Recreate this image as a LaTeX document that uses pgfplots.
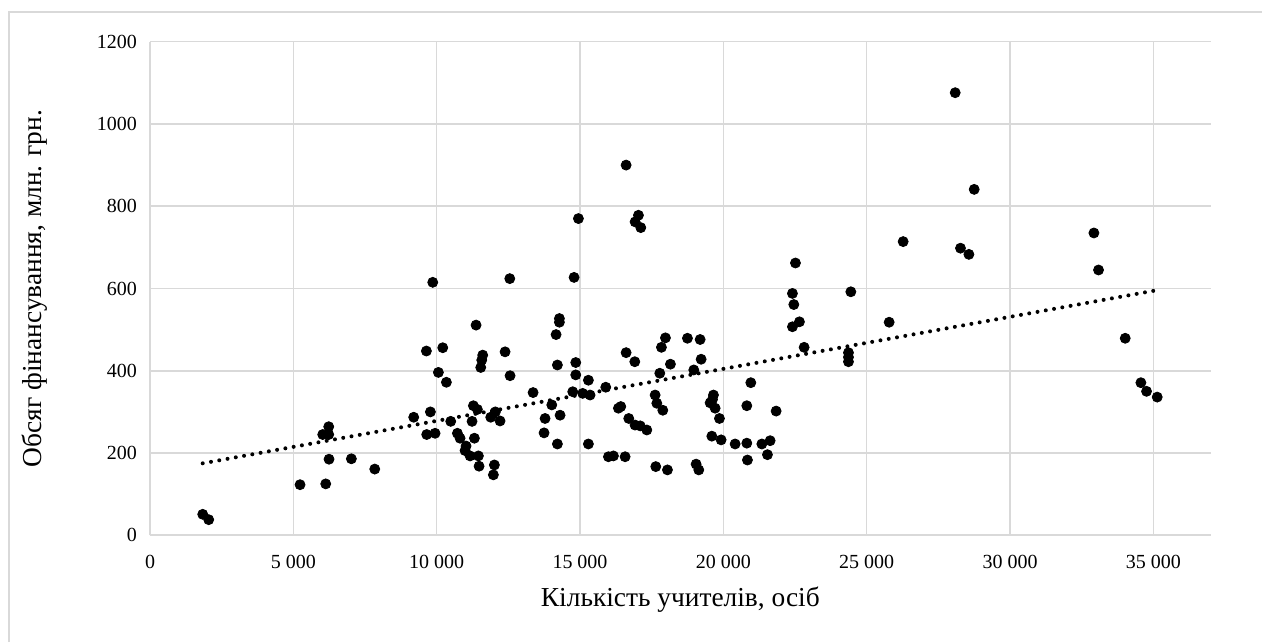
\documentclass[border=0pt]{standalone}
\usepackage{fontspec}
\setmainfont{Liberation Serif}
\usepackage{pgfplots}
\pgfplotsset{compat=1.18}
\definecolor{gridc}{HTML}{D9D9D9}
\begin{document}
\begin{tikzpicture}
\useasboundingbox (0,0) rectangle (631pt,321pt);
\draw[gridc, line width=0.9pt] (4.5pt,0) -- (4.5pt,314.85pt) -- (631pt,314.85pt);
\begin{axis}[
  at={(75pt,53.35pt)}, anchor=south west,
  scale only axis, width=530.35pt, height=246.8pt,
  xmin=0, xmax=37000, ymin=0, ymax=1200,
  xtick={0,5000,...,35000}, ytick={0,200,...,1200},
  grid=major, major grid style={gridc, line width=0.75pt},
  axis x line*=bottom, axis y line*=left,
  x axis line style={draw=gridc, line width=0.9pt, -},
  y axis line style={draw=none},
  major tick length=0pt,
  scaled x ticks=false, scaled y ticks=false,
  /pgf/number format/assume math mode=true,
  xticklabel style={font=\fontsize{10}{12}\selectfont, yshift=-6.5pt, /pgf/number format/1000 sep={\ }},
  yticklabel style={font=\fontsize{10}{12}\selectfont, xshift=-3pt, /pgf/number format/1000 sep={}},
  xlabel={Кількість учителів, осіб},
  ylabel={Обсяг фінансування, млн. грн.},
  label style={font=\fontsize{13.7}{16}\selectfont},
  xlabel style={at={(axis description cs:0.5,-0.131)}, anchor=center},
  ylabel style={at={(axis description cs:-0.1085,0.5)}, anchor=center},
  clip=false,
]
\addplot[only marks, mark=*, mark size=2.5pt, black] coordinates {
(1839,51) (2048,38) (5234,123) (6130,125) (6234,264) (6025,245) (6234,245)
(6245,185) (7024,186) (7840,161) (9863,615) (11374,511) (9641,448) (10212,456)
(11606,438) (11572,426) (11537,408) (10060,396) (10339,372) (9199,287) (9781,300)
(9652,245) (9944,248) (10490,277) (11281,315) (11420,306) (11234,277)
(10723,248) (10816,236) (11316,236) (11025,217) (10990,206) (11165,193) (11455,193)
(11479,168) (12013,171) (11978,147) (12048,300) (11886,287) (12211,278)
(12550,624) (12386,446) (12560,388) (13363,347) (13781,284) (13746,249) (14015,317)
(14305,292) (14211,222) (14281,527) (14281,518) (14165,488) (14211,414)
(14793,627) (14944,770) (14851,420) (14851,390) (14746,349) (15094,345) (15351,341)
(15292,377) (15292,222) (15898,360) (16339,309) (16422,313) (15991,191) (16165,193)
(16573,191) (16608,900) (16608,444) (16911,422) (17038,778) (16922,762) (17120,748)
(16700,284) (16920,268) (17100,266) (17330,256) (17643,167) (18050,159)
(17620,341) (17679,321) (17888,304) (17783,394) (17840,457) (17980,480) (18154,416)
(18747,479) (19190,476) (19225,428) (18969,402) (19050,173) (19143,159)
(19655,341) (19539,322) (19713,309) (19620,330) (19864,284) (19598,241) (19922,232)
(20411,222) (20818,224) (20840,183) (20818,315) (20958,371) (21343,222) (21632,230)
(21538,196) (21841,302) (22515,662) (22410,588) (22458,561) (22410,507) (22654,519)
(22818,457) (24447,592) (24364,444) (24364,433) (24364,422) (25784,518) (26272,714)
(28087,1076) (28750,841) (28272,698) (28565,683) (32926,735) (33087,645)
(34018,479) (34565,371) (34762,350) (35134,336)
};
\addplot[black, line width=2pt, line cap=round, dash pattern=on 0pt off 4.2pt] coordinates {
(1839,175) (35134,596)
};
\end{axis}
\end{tikzpicture}
\end{document}
